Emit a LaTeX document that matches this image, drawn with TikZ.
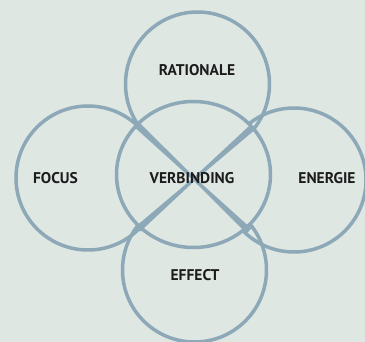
\documentclass[tikz,border=0pt]{standalone}
\usepackage{fontspec}
\setmainfont{PT Sans}
\usetikzlibrary{calc,shapes.geometric}
\definecolor{bgcol}{HTML}{DFE7E3}
\definecolor{ringcol}{HTML}{8DA8B7}
\definecolor{labelcol}{HTML}{1C1C1C}
\tikzset{
  ring/.style={circle, draw=ringcol, line width=3.5pt, minimum size=144pt, inner sep=0pt},
  hub/.style={ellipse, draw=ringcol, fill=bgcol, line width=3.5pt, minimum width=154pt, minimum height=146pt, inner sep=0pt},
  lbl/.style={text=labelcol, font=\bfseries\fontsize{15.5}{15.5}\selectfont, inner sep=0pt},
  band/.style={fill=ringcol, draw=none}
}
\begin{document}
\begin{tikzpicture}[x=1pt,y=1pt]
  % canvas
  \fill[bgcol] (0,0) rectangle (365,-342);
  \useasboundingbox (0,0) rectangle (365,-342);
  \begin{scope}
    \clip (0,0) rectangle (365,-342);
    % outer rings
    \node[ring] (rat) at (197.5,-84) {};
    \node[ring] (foc) at (88,-178) {};
    \node[ring] (ene) at (294,-180) {};
    \node[ring] (eff) at (194.5,-270) {};
    % central ring covers the inner arcs of the outer rings
    \node[hub] (ver) at (193.5,-174.5) {};
    % crossing bands, wide at the ends and narrow at the middle
    \coordinate (tl) at (136,-124);
    \coordinate (br) at (249,-231);
    \coordinate (tr) at (253,-127);
    \coordinate (bl) at (138,-229);
    \coordinate (mid) at (194.2,-179.1);
    \fill[band] ($(tl)!3.4pt!90:(br)$) -- ($(mid)!1.5pt!90:(br)$) -- ($(br)!3.4pt!-90:(tl)$)
      -- ($(br)!3.4pt!90:(tl)$) -- ($(mid)!1.5pt!-90:(br)$) -- ($(tl)!3.4pt!-90:(br)$) -- cycle;
    \fill[band] ($(tr)!3.4pt!90:(bl)$) -- ($(mid)!1.5pt!90:(bl)$) -- ($(bl)!3.4pt!-90:(tr)$)
      -- ($(bl)!3.4pt!90:(tr)$) -- ($(mid)!1.5pt!-90:(bl)$) -- ($(tr)!3.4pt!-90:(bl)$) -- cycle;
  \end{scope}
  % labels
  \node[lbl] (trat) at (197,-70) {RATIONALE};
  \node[lbl] (tfoc) at (55.5,-178) {FOCUS};
  \node[lbl] (tene) at (327,-178) {ENERGIE};
  \node[lbl] (tver) at (192,-178) {VERBINDING};
  \node[lbl] (teff) at (195,-275) {EFFECT};
\end{tikzpicture}
\end{document}
